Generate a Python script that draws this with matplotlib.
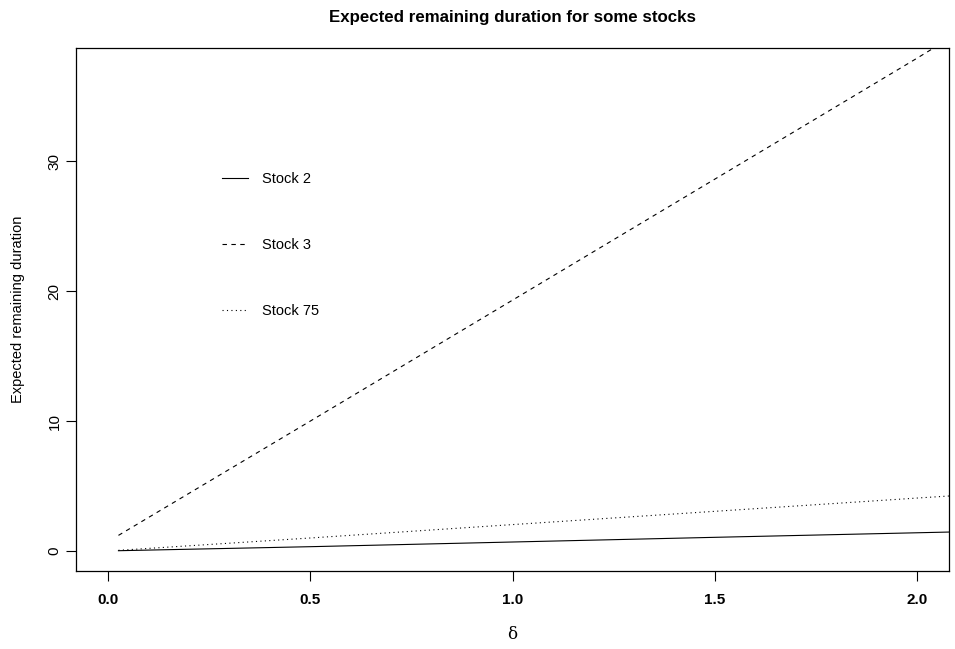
import numpy as np
import matplotlib
matplotlib.use("Agg")
import matplotlib.pyplot as plt

plt.rcParams['font.family'] = ['Liberation Sans', 'DejaVu Sans']

# values
delta = [0.025, 0.5, 1.0, 1.5, 2.0, 2.1]
stock2 = [0.02, 0.33, 0.69, 1.05, 1.40, 1.47]
stock3 = [1.2, 10.0, 19.3, 28.6, 37.9, 39.8]
stock75 = [0.05, 1.0, 2.03, 3.05, 4.07, 4.27]
series_names = ["Stock 2", "Stock 3", "Stock 75"]
xticks = [0.0, 0.5, 1.0, 1.5, 2.0]
yticks = [0, 10, 20, 30]

fig = plt.figure(figsize=(9.55, 6.49), dpi=100)
ax = fig.add_axes([0.0796, 0.1202, 0.9141, 0.8058])

lw = 0.8
ax.plot(delta, stock2, color='black', lw=lw, linestyle='-', label=series_names[0])
ax.plot(delta, stock3, color='black', lw=lw, linestyle=(0, (4, 4)), label=series_names[1])
ax.plot(delta, stock75, color='black', lw=lw, linestyle=(0, (1, 3)), label=series_names[2])

ax.set_xlim(-0.08, 2.08)
ax.set_ylim(-1.54, 38.7)
ax.set_xticks(xticks)
ax.set_xticklabels([f"{t:.1f}" for t in xticks], fontweight='bold', fontsize=11)
ax.set_yticks(yticks)
ax.set_yticklabels([str(t) for t in yticks], rotation=90, va='center', fontsize=11)
ax.tick_params(direction='out', length=7, width=0.8)
ax.tick_params(axis='x', pad=8.5)
ax.tick_params(axis='y', pad=3.5)
for s in ax.spines.values():
    s.set_linewidth(0.9)

ax.set_title("Expected remaining duration for some stocks", fontsize=12.2,
             fontweight='bold', pad=19)
ax.set_ylabel("Expected remaining duration", fontsize=10.5, labelpad=16)
ax.set_xlabel("δ", fontsize=12, family=['DejaVu Serif'], labelpad=14)

leg = ax.legend(loc='upper left', bbox_to_anchor=(0.1606, 0.7734), frameon=False,
                fontsize=10.5, handlelength=1.8, handletextpad=0.95,
                labelspacing=3.54, borderaxespad=0)

fig.savefig("out.png", dpi=100)
